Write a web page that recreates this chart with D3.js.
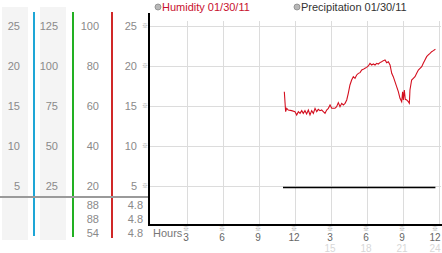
<!DOCTYPE html>
<html>
<head>
<meta charset="utf-8">
<script src="https://cdn.jsdelivr.net/npm/d3@7/dist/d3.min.js"></script>
<style>
  body { margin:0; background:#fff; }
  svg { display:block; font-family:"Liberation Sans", Arial, sans-serif; }
  .segno { font-family:"Noto Sans CJK JP", "DejaVu Sans", sans-serif; }
</style>
</head>
<body>
<svg id="graf" width="442" height="253"></svg>
<script>
// scale columns on the left
let col1 = [25, 20, 15, 10, 5];
let col2 = [125, 100, 75, 50, 25];
let col3 = [100, 80, 60, 40, 20];
let col4 = [25, 20, 15, 10, 5];
let rows3 = [88, 88, 54];
let rows4 = ["4.8", "4.8", "4.8"];

// hour ticks
let ore = [3, 6, 9, 12, 15, 18, 21, 24];
let ore_label = ["3", "6", "9", "12", "3", "6", "9", "12"];
let ore_sotto = ["", "", "", "", "15", "18", "21", "24"];

// humidity 01/30/11 (hours, value)
let umid_ora = [11.11,11.22,11.31,11.44,11.72,12.0,12.14,12.28,12.42,12.56,12.69,12.83,12.97,13.11,13.25,13.39,13.53,13.67,13.81,13.94,14.08,14.22,14.36,14.5,14.64,14.78,14.92,15.06,15.19,15.33,15.47,15.61,15.75,15.89,16.03,16.17,16.31,16.44,16.58,16.72,16.86,17.0,17.14,17.28,17.42,17.56,17.69,17.83,17.97,18.11,18.25,18.39,18.53,18.67,18.81,18.94,19.08,19.22,19.36,19.5,19.64,19.78,19.92,20.06,20.19,20.33,20.47,20.61,20.75,20.89,20.97,21.03,21.11,21.19,21.31,21.44,21.53,21.58,21.72,21.86,22.0,22.14,22.28,22.42,22.56,22.69,22.83,22.97,23.11,23.25,23.39,23.53,23.7];
let umid_val = [16.79,14.29,14.71,14.5,14.42,14.29,13.88,14.29,14.08,14.42,14.08,14.42,14.0,14.5,13.88,14.42,14.08,14.71,14.29,14.58,14.42,14.5,14.29,14.08,14.5,14.71,15.13,14.71,14.71,14.71,14.92,15.42,14.92,15.33,15.13,15.33,15.75,16.58,17.63,18.25,18.67,18.46,18.88,19.08,19.17,19.5,19.58,19.71,19.83,20.0,20.33,20.13,20.25,20.13,20.33,20.25,20.42,20.54,20.67,20.75,20.42,20.54,20.13,19.08,18.67,18.04,17.42,16.79,15.96,15.54,16.79,15.75,17.0,15.83,15.75,15.54,15.33,17.0,18.25,18.46,18.67,19.08,19.5,19.71,19.92,20.33,20.75,21.17,21.38,21.58,21.79,21.92,22.1];

// precipitation 01/30/11
let prec_ora = [11.0, 23.7];
let prec_val = [4.8, 4.8];

var svg = d3.select("#graf");

var x = d3.scaleLinear().domain([0, 24]).range([151, 439]);
var y = d3.scaleLinear().domain([0, 25]).range([226, 26]);

// colonne grigie
svg.append("rect").attr("x", 2).attr("y", 7).attr("width", 26).attr("height", 233).attr("fill", "#f4f4f4");
svg.append("rect").attr("x", 40).attr("y", 7).attr("width", 26).attr("height", 233).attr("fill", "#f4f4f4");

// griglia
svg.append("g").attr("shape-rendering", "crispEdges")
    .selectAll("line").data([25, 20, 15, 10, 5]).enter().append("line")
    .attr("x1", 150).attr("x2", 441)
    .attr("y1", function(d) { return y(d) + 0.5; })
    .attr("y2", function(d) { return y(d) + 0.5; })
    .attr("stroke", "#dcdcdc");
svg.append("g").attr("shape-rendering", "crispEdges")
    .selectAll("line").data(ore).enter().append("line")
    .attr("x1", function(d) { return Math.round(x(d)) + 0.5; })
    .attr("x2", function(d) { return Math.round(x(d)) + 0.5; })
    .attr("y1", 21).attr("y2", 224)
    .attr("stroke", "#dcdcdc");

// linee colorate delle scale
var assi = [{x: 33, c: "#1ea6d6", y2: 236}, {x: 72, c: "#22b022", y2: 237}, {x: 111, c: "#d02828", y2: 238}];
svg.append("g").attr("shape-rendering", "crispEdges")
    .selectAll("line").data(assi).enter().append("line")
    .attr("x1", function(d) { return d.x + 1; })
    .attr("x2", function(d) { return d.x + 1; })
    .attr("y1", 12).attr("y2", function(d) { return d.y2; })
    .attr("stroke", function(d) { return d.c; })
    .attr("stroke-width", 2);

// separatore orizzontale
svg.append("line").attr("x1", 0).attr("x2", 149).attr("y1", 197).attr("y2", 197)
    .attr("stroke", "#9a9a9a").attr("stroke-width", 2);

// etichette colonne
function colonna(valori, xr) {
    svg.append("g").selectAll("text").data(valori).enter().append("text")
        .attr("x", xr)
        .attr("y", function(d, i) { return y(col1[i]); })
        .attr("dy", ".35em")
        .style("text-anchor", "end")
        .style("font-size", "11px")
        .attr("fill", "#8a8a8a")
        .text(function(d) { return d; });
}
colonna(col1, 20);
colonna(col2, 58);
colonna(col3, 99);
colonna(col4, 137);

// segnetti accanto alla scala
svg.append("g").selectAll("text").data(col4).enter().append("text")
    .attr("class", "segno")
    .attr("x", 145).attr("y", function(d) { return y(d); })
    .attr("dy", ".35em")
    .style("text-anchor", "middle")
    .style("font-size", "6px")
    .attr("fill", "#999")
    .text("※");

// righe in basso
svg.append("g").selectAll("text").data(rows3).enter().append("text")
    .attr("x", 99).attr("y", function(d, i) { return 205 + i * 14; })
    .attr("dy", ".35em").style("text-anchor", "end").style("font-size", "11px")
    .attr("fill", "#8a8a8a").text(function(d) { return d; });
svg.append("g").selectAll("text").data(rows4).enter().append("text")
    .attr("x", 143).attr("y", function(d, i) { return 205 + i * 14; })
    .attr("dy", ".35em").style("text-anchor", "end").style("font-size", "11px")
    .attr("fill", "#8a8a8a").text(function(d) { return d; });

// linee dati
var linea = d3.line()
    .x(function(d) { return x(d[0]); })
    .y(function(d) { return y(d[1]); });

svg.append("path")
    .datum(prec_ora.map(function(d, i) { return [d, prec_val[i]]; }))
    .attr("d", linea).attr("fill", "none").attr("stroke", "#000").attr("stroke-width", 1.5);

svg.append("path")
    .datum(umid_ora.map(function(d, i) { return [d, umid_val[i]]; }))
    .attr("d", linea).attr("fill", "none").attr("stroke", "#d40f1f").attr("stroke-width", 1.1);

// assi neri
svg.append("line").attr("x1", 149).attr("x2", 149).attr("y1", 13).attr("y2", 225)
    .attr("stroke", "#000").attr("stroke-width", 2);
svg.append("line").attr("x1", 148).attr("x2", 442).attr("y1", 225).attr("y2", 225)
    .attr("stroke", "#000").attr("stroke-width", 2);

// etichette ore
svg.append("text").attr("x", 153).attr("y", 233).attr("dy", ".35em")
    .style("font-size", "11px").attr("fill", "#777").text("Hours");
var tk = svg.append("g").selectAll("g").data(ore).enter().append("g")
    .attr("transform", function(d) { return "translate(" + Math.min(x(d) - 1, 435) + ",0)"; });
tk.append("text").attr("class", "segno").attr("y", 231).style("text-anchor", "middle")
    .style("font-size", "6px").attr("fill", "#999").text("※");
tk.append("text").attr("y", 237).attr("dy", ".35em").style("text-anchor", "middle")
    .style("font-size", "10px").attr("fill", "#666")
    .text(function(d, i) { return ore_label[i]; });
tk.append("text").attr("y", 248).attr("dy", ".35em").style("text-anchor", "middle")
    .style("font-size", "10px").attr("fill", "#d8d8d8")
    .text(function(d, i) { return ore_sotto[i]; });

// legenda
var legenda = [{key: "Humidity 01/30/11", x: 158, c: "#c8102e"},
               {key: "Precipitation 01/30/11", x: 297, c: "#333"}];
var lg = svg.append("g").selectAll("g").data(legenda).enter().append("g")
    .attr("transform", function(d) { return "translate(" + d.x + ",7)"; });
lg.append("circle").attr("r", 3).attr("fill", "#b8b8b8").attr("stroke", "#888").attr("stroke-width", 0.8);
lg.append("text").attr("x", 4).attr("dy", ".35em").style("font-size", "11px")
    .attr("fill", function(d) { return d.c; })
    .text(function(d) { return d.key; });
</script>
</body>
</html>
